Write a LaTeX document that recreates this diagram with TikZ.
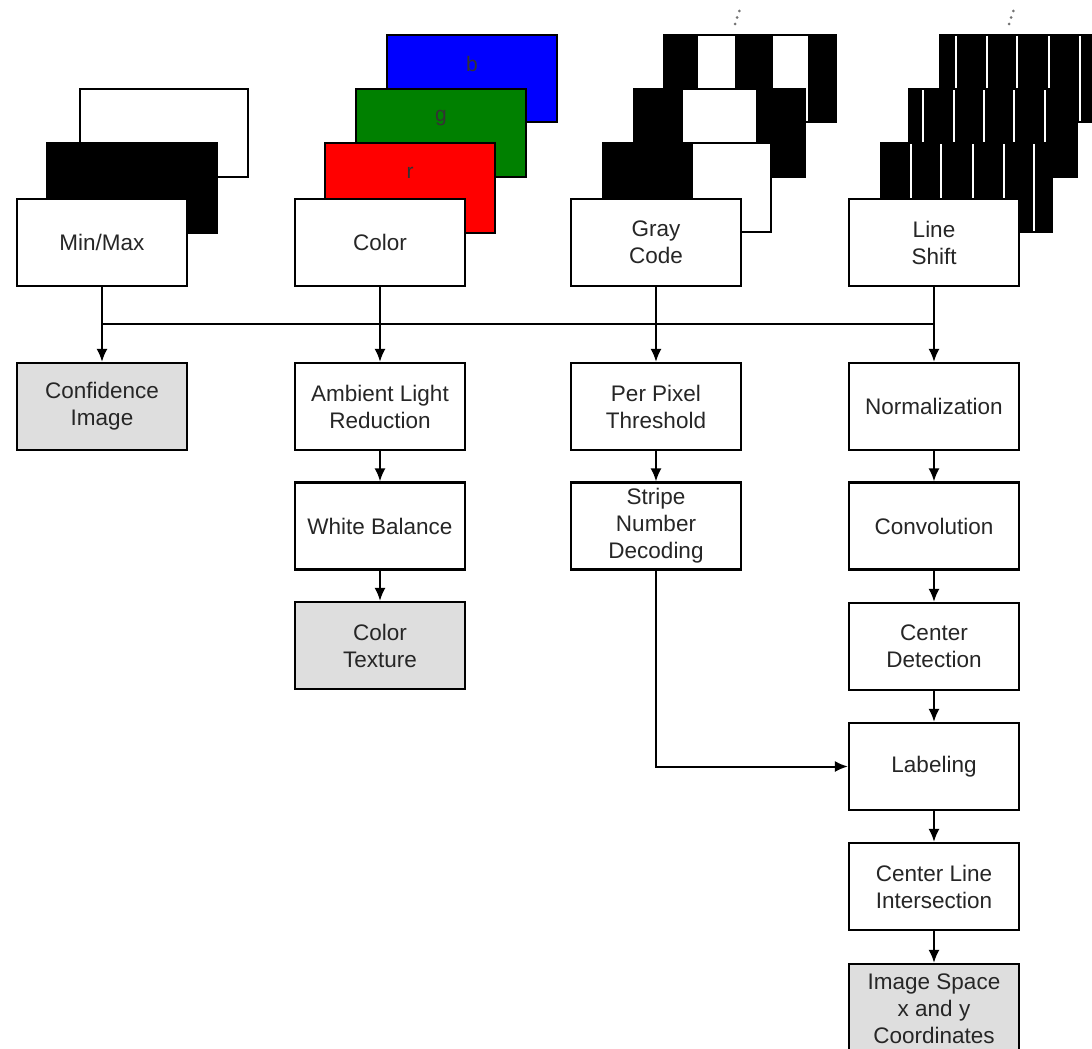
\documentclass[tikz,border=0pt]{standalone}
\usepackage{fontspec}
\setmainfont{Liberation Sans}
\usetikzlibrary{arrows.meta}
\tikzset{
  stage/.style={draw, line width=2.2pt, fill=white, minimum width=170pt,
    minimum height=87pt, inner sep=0pt, align=center, text=black!85,
    font=\fontsize{22.5}{27}\selectfont},
  result/.style={stage, fill=black!13},
  layer/.style={draw, line width=1.8pt},
  chan/.style={font=\fontsize{21}{27}\selectfont, text=black!80},
  flow/.style={line width=2pt, -{Latex[length=13pt,width=11pt]}},
  dots/.style={fill=black!55},
}
\begin{document}
\begin{tikzpicture}[x=1pt,y=-1pt]
    \useasboundingbox (0,0) rectangle (1092,1049);
    % min/max images
    \draw[layer,fill=white] (80,89) rectangle (248,177);
    \draw[layer,fill=black] (47,143) rectangle (217,233);
    % color channels
    \draw[layer,fill={rgb,255:red,0;green,0;blue,255}] (387,35) rectangle (557,122);
    \node[chan] (chb) at (472,64) {b};
    \draw[layer,fill={rgb,255:red,0;green,128;blue,0}] (356,89) rectangle (526,177);
    \node[chan] (chg) at (441,118) {g};
    \draw[layer,fill={rgb,255:red,255;green,0;blue,0}] (325,143) rectangle (495,233);
    \node[chan] (chr) at (410,173) {r};
    % gray code patterns
    \draw[layer,fill=white] (664,35) rectangle (836,122);
    \foreach \a/\b in {664/697,736/772,809/836}
        \draw[layer,fill=black] (\a,35) rectangle (\b,122);
    \draw[layer,fill=white] (634,89) rectangle (805,177);
    \foreach \a/\b in {634/682,757/805}
        \draw[layer,fill=black] (\a,89) rectangle (\b,177);
    \draw[layer,fill=white] (603,143) rectangle (771,232);
    \draw[layer,fill=black] (603,143) rectangle (692,232);
    \foreach \y in {11,17.5,24}
        \fill[dots] (739-\y/3+4,\y) circle (1.5);
    % line shift patterns
    \draw[layer,fill=black] (940,35) rectangle (1111,122);
    \foreach \x in {956,987,1017,1049,1080}
        \draw[white,line width=2.6pt] (\x,36) -- (\x,121);
    \draw[layer,fill=black] (909,89) rectangle (1077,177);
    \foreach \x in {923,954,984,1014,1045}
        \draw[white,line width=2.6pt] (\x,90) -- (\x,176);
    \draw[layer,fill=black] (881,143) rectangle (1052,232);
    \foreach \x in {911,941,973,1004,1034}
        \draw[white,line width=2.6pt] (\x,144) -- (\x,231);
    \foreach \y in {11,17.5,24}
        \fill[dots] (1013-\y/3+4,\y) circle (1.5);

    % input stages
    \node[stage] (minmax) at (102,242.5) {Min/Max};
    \node[stage] (color) at (380,242.5) {Color};
    \node[stage] (graycode) at (656,242.5) {Gray\\Code};
    \node[stage] (lineshift) at (934,242.5) {Line\\Shift};
    % processing
    \node[result] (confimg) at (102,406.5) {Confidence\\Image};
    \node[stage] (ambient) at (380,406.5) {Ambient Light\\Reduction};
    \node[stage] (whitebal) at (380,526) {White Balance};
    \node[result] (texture) at (380,645.5) {Color\\Texture};
    \node[stage] (threshold) at (656,406.5) {Per Pixel\\Threshold};
    \node[stage] (stripe) at (656,526) {Stripe\\Number\\Decoding};
    \node[stage] (normal) at (934,406.5) {Normalization};
    \node[stage] (convol) at (934,526) {Convolution};
    \node[stage] (centerdet) at (934,646.5) {Center\\Detection};
    \node[stage] (labeling) at (934,766.5) {Labeling};
    \node[stage] (centerline) at (934,886.5) {Center Line\\Intersection};
    \node[result,minimum height=89pt] (imgspace) at (934,1008.5) {Image Space\\x and y\\Coordinates};

    % connectors
    \coordinate (busl) at (102,324);
    \coordinate (busr) at (934,324);
    \draw[line width=2pt] (busl) -- (busr);
    \draw[flow] (minmax) -- (confimg);
    \draw[flow] (color) -- (ambient);
    \draw[flow] (graycode) -- (threshold);
    \draw[flow] (lineshift) -- (normal);
    \draw[flow] (ambient) -- (whitebal);
    \draw[flow] (whitebal) -- (texture);
    \draw[flow] (threshold) -- (stripe);
    \draw[flow] (normal) -- (convol);
    \draw[flow] (convol) -- (centerdet);
    \draw[flow] (centerdet) -- (labeling);
    \draw[flow] (labeling) -- (centerline);
    \draw[flow] (centerline) -- (imgspace);
    \draw[flow] (stripe.south) |- (labeling.west);
\end{tikzpicture}
\end{document}
